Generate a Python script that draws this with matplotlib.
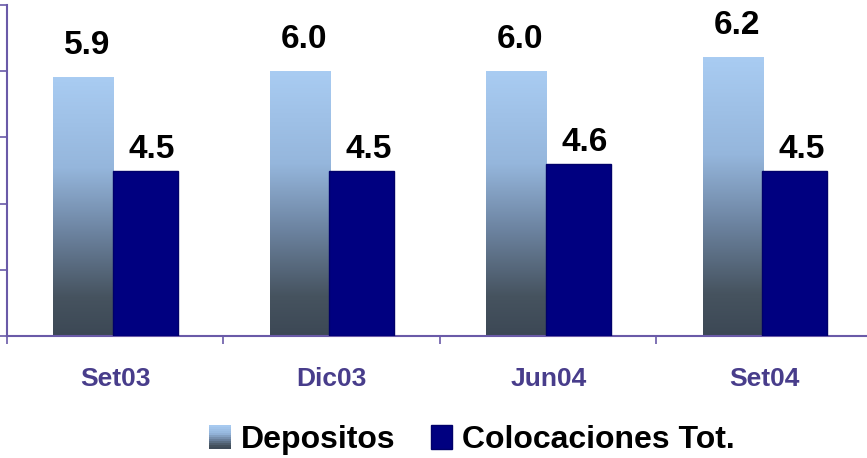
import matplotlib
matplotlib.use("Agg")
import matplotlib.pyplot as plt
import numpy as np
from matplotlib.colors import LinearSegmentedColormap
from matplotlib.patches import Rectangle
from matplotlib.legend_handler import HandlerBase

categories = ["Set03", "Dic03", "Jun04", "Set04"]
depositos = [5.9, 6.0, 6.0, 6.2]
colocaciones = [4.5, 4.5, 4.6, 4.5]
dep_labels = ["5.9", "6.0", "6.0", "6.2"]
col_labels = ["4.5", "4.5", "4.6", "4.5"]
series_names = ["Depositos", "Colocaciones Tot."]

plt.rcParams['font.family'] = ['Liberation Sans', 'DejaVu Sans']

W, H = 867, 458
fig = plt.figure(figsize=(W / 100, H / 100), dpi=100)
ax = fig.add_axes([7 / W, (H - 336) / H, 866 / W, 331 / H])

axis_color = '#6a5aa8'
navy = '#000080'
cmap = LinearSegmentedColormap.from_list(
    'dep', [(0.0, '#3c4855'), (0.15, '#46535f'), (0.4, '#6c83a0'),
            (0.65, '#95b6dc'), (1.0, '#a9ccf2')])

ymin, ymax = 2, 7
dep_w, dep_off = 0.278, -0.148
col_w, col_off = 0.30, 0.138
x = np.arange(len(categories))
grad = np.linspace(0, 1, 256).reshape(-1, 1)

for i, d in enumerate(depositos):
    x0 = x[i] + dep_off - dep_w / 2
    ax.imshow(grad, extent=[x0, x0 + dep_w, ymin, d], origin='lower',
              cmap=cmap, aspect='auto', zorder=2)
    ax.annotate(dep_labels[i], (x[i] + dep_off, d), xytext=(4, 32),
                textcoords='offset pixels', ha='center', va='center',
                fontsize=24, fontweight='bold', color='black')

ax.bar(x + col_off, [v - ymin for v in colocaciones], bottom=ymin, width=col_w,
       color=navy, edgecolor='#00006a', linewidth=1, zorder=3)
for i, c in enumerate(colocaciones):
    ax.annotate(col_labels[i], (x[i] + col_off, c), xytext=(7, 21),
                textcoords='offset pixels', ha='center', va='center',
                fontsize=24, fontweight='bold', color='black')

ax.set_xlim(-0.5, len(categories) - 0.5)
ax.set_ylim(ymin, ymax)
ax.set_xticks(x)
ax.set_xticklabels(categories, fontsize=19, fontweight='bold', color='#483d8b')
ax.tick_params(axis='x', which='major', length=0, pad=22)
ax.set_xticks(np.arange(-0.5, len(categories), 1.0), minor=True)
ax.tick_params(axis='x', which='minor', length=6, width=1.2, color=axis_color,
               direction='out')
ax.set_yticks(np.arange(ymin, ymax + 1, 1))
ax.set_yticklabels([])
ax.tick_params(axis='y', length=6, width=1.2, color=axis_color, direction='out')
for s in ['top', 'right']:
    ax.spines[s].set_visible(False)
for s in ['left', 'bottom']:
    ax.spines[s].set_color(axis_color)
    ax.spines[s].set_linewidth(1.5)


class GradHandler(HandlerBase):
    def create_artists(self, legend, orig_handle, xdescent, ydescent,
                       width, height, fontsize, trans):
        n = 12
        arts = []
        for k in range(n):
            r = Rectangle((-xdescent, -ydescent + height * k / n), width,
                          height / n + 0.3, facecolor=cmap((k + 0.5) / n),
                          edgecolor='none', transform=trans)
            arts.append(r)
        return arts


h1 = Rectangle((0, 0), 1, 1)
h2 = Rectangle((0, 0), 1, 1, facecolor=navy, edgecolor='#00006a')
fig.legend([h1, h2], series_names, handler_map={h1: GradHandler()},
           loc='center', bbox_to_anchor=(472 / W, (H - 440) / H),
           ncol=2, frameon=False,
           prop={'size': 23, 'weight': 'bold'},
           handlelength=0.68, handleheight=0.75, handletextpad=0.3,
           columnspacing=1.1)

fig.savefig('out.png', dpi=100)
